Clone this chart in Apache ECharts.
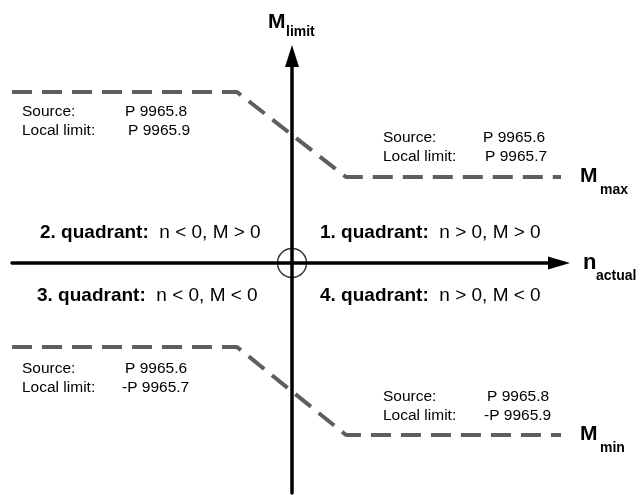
<!DOCTYPE html>
<html>
<head>
<meta charset="utf-8">
<script src="https://cdn.jsdelivr.net/npm/echarts@6/dist/echarts.min.js"></script>
<style>html,body{margin:0;padding:0;background:#fff}#c{width:643px;height:495px}</style>
</head>
<body>
<div id="c"></div>
<script>
// Limit curves (n_actual vs M)
var nPoints = [-28, -5.5, 5.4, 27.9];
var mMax = [17.1, 17.1, 8.6, 8.6];
var mMin = [-8.4, -8.4, -17.2, -17.2];
var origin = [[0, 0]];

// Annotation texts
var paramLabels = ['Source:', 'Local limit:'];
var topLeftVals = ['P 9965.8', 'P 9965.9'];
var topRightVals = ['P 9965.6', 'P 9965.7'];
var botLeftVals = ['P 9965.6', '-P 9965.7'];
var botRightVals = ['P 9965.8', '-P 9965.9'];
var quadrantNames = ['1. quadrant:', '2. quadrant:', '3. quadrant:', '4. quadrant:'];
var quadrantConds = ['n > 0, M > 0', 'n < 0, M > 0', 'n < 0, M < 0', 'n > 0, M < 0'];
var axisNames = { x: ['n', 'actual'], y: ['M', 'limit'], max: ['M', 'max'], min: ['M', 'min'] };

var FONT = '"Liberation Sans", Arial, sans-serif';
function zip(a, b) { return a.map(function (v, i) { return [v, b[i]]; }); }

var chart = echarts.init(document.getElementById('c'), null, { renderer: 'canvas' });

function t(x, y, text, size, bold, align) {
  return { type: 'text', x: x, y: y, z: 100, style: {
    text: text, fill: '#000', font: (bold ? 'bold ' : '') + size + 'px ' + FONT,
    textAlign: align || 'left', textVerticalAlign: 'middle' } };
}
function block(x1, x2, y, vals) {
  return [t(x1, y, paramLabels[0], 15.5), t(x1, y + 19, paramLabels[1], 15.5),
          t(x2[0], y, vals[0], 15.5), t(x2[1], y + 19, vals[1], 15.5)];
}
function quad(x, y, i) {
  return { type: 'text', x: x, y: y, z: 100, style: {
    text: '{b|' + quadrantNames[i] + '}  ' + quadrantConds[i],
    font: '19px ' + FONT, fill: '#000', textVerticalAlign: 'middle',
    rich: { b: { fontWeight: 'bold', fontSize: 19, fontFamily: FONT } } } };
}

var graphics = []
  .concat(block(22, [125, 128], 112, topLeftVals))
  .concat(block(383, [483, 485], 138, topRightVals))
  .concat(block(22, [125, 122], 369, botLeftVals))
  .concat(block(383, [487, 484], 397, botRightVals))
  .concat([quad(320, 233, 0), quad(40, 233, 1), quad(37, 296, 2), quad(320, 296, 3)])
  .concat([
    t(268, 22, axisNames.y[0], 21, true), t(286, 32, axisNames.y[1], 14, true),
    t(583, 263, axisNames.x[0], 22, true), t(596, 276, axisNames.x[1], 14, true),
    t(580, 176, axisNames.max[0], 21, true), t(600, 190, axisNames.max[1], 14, true),
    t(580, 434, axisNames.min[0], 21, true), t(600, 448, axisNames.min[1], 14, true)
  ]);

var axisCommon = {
  type: 'value', splitLine: { show: false }, axisTick: { show: false }, axisLabel: { show: false },
  axisLine: { show: true, onZero: true, symbol: ['none', 'triangle'], lineStyle: { color: '#000', width: 3.5 } }
};

chart.setOption({
  animation: false,
  backgroundColor: '#fff',
  grid: { left: 12, right: 84, top: 56, bottom: 2 },
  xAxis: Object.assign({}, axisCommon, { min: -28, max: 26.7,
    axisLine: Object.assign({}, axisCommon.axisLine, { symbolSize: [13, 22] }) }),
  yAxis: Object.assign({}, axisCommon, { min: -23, max: 20.7,
    axisLine: Object.assign({}, axisCommon.axisLine, { symbolSize: [14, 22] }) }),
  series: [
    { type: 'line', data: zip(nPoints, mMax), symbol: 'none', clip: false,
      lineStyle: { color: '#5e5e5e', width: 4, type: [20, 10] } },
    { type: 'line', data: zip(nPoints, mMin), symbol: 'none', clip: false,
      lineStyle: { color: '#5e5e5e', width: 4, type: [20, 10] } },
    { type: 'scatter', data: origin, symbol: 'circle', symbolSize: 29, z: 10,
      itemStyle: { color: 'rgba(0,0,0,0)', borderColor: '#000', borderWidth: 1.5 } }
  ],
  graphic: graphics
});
</script>
</body>
</html>
